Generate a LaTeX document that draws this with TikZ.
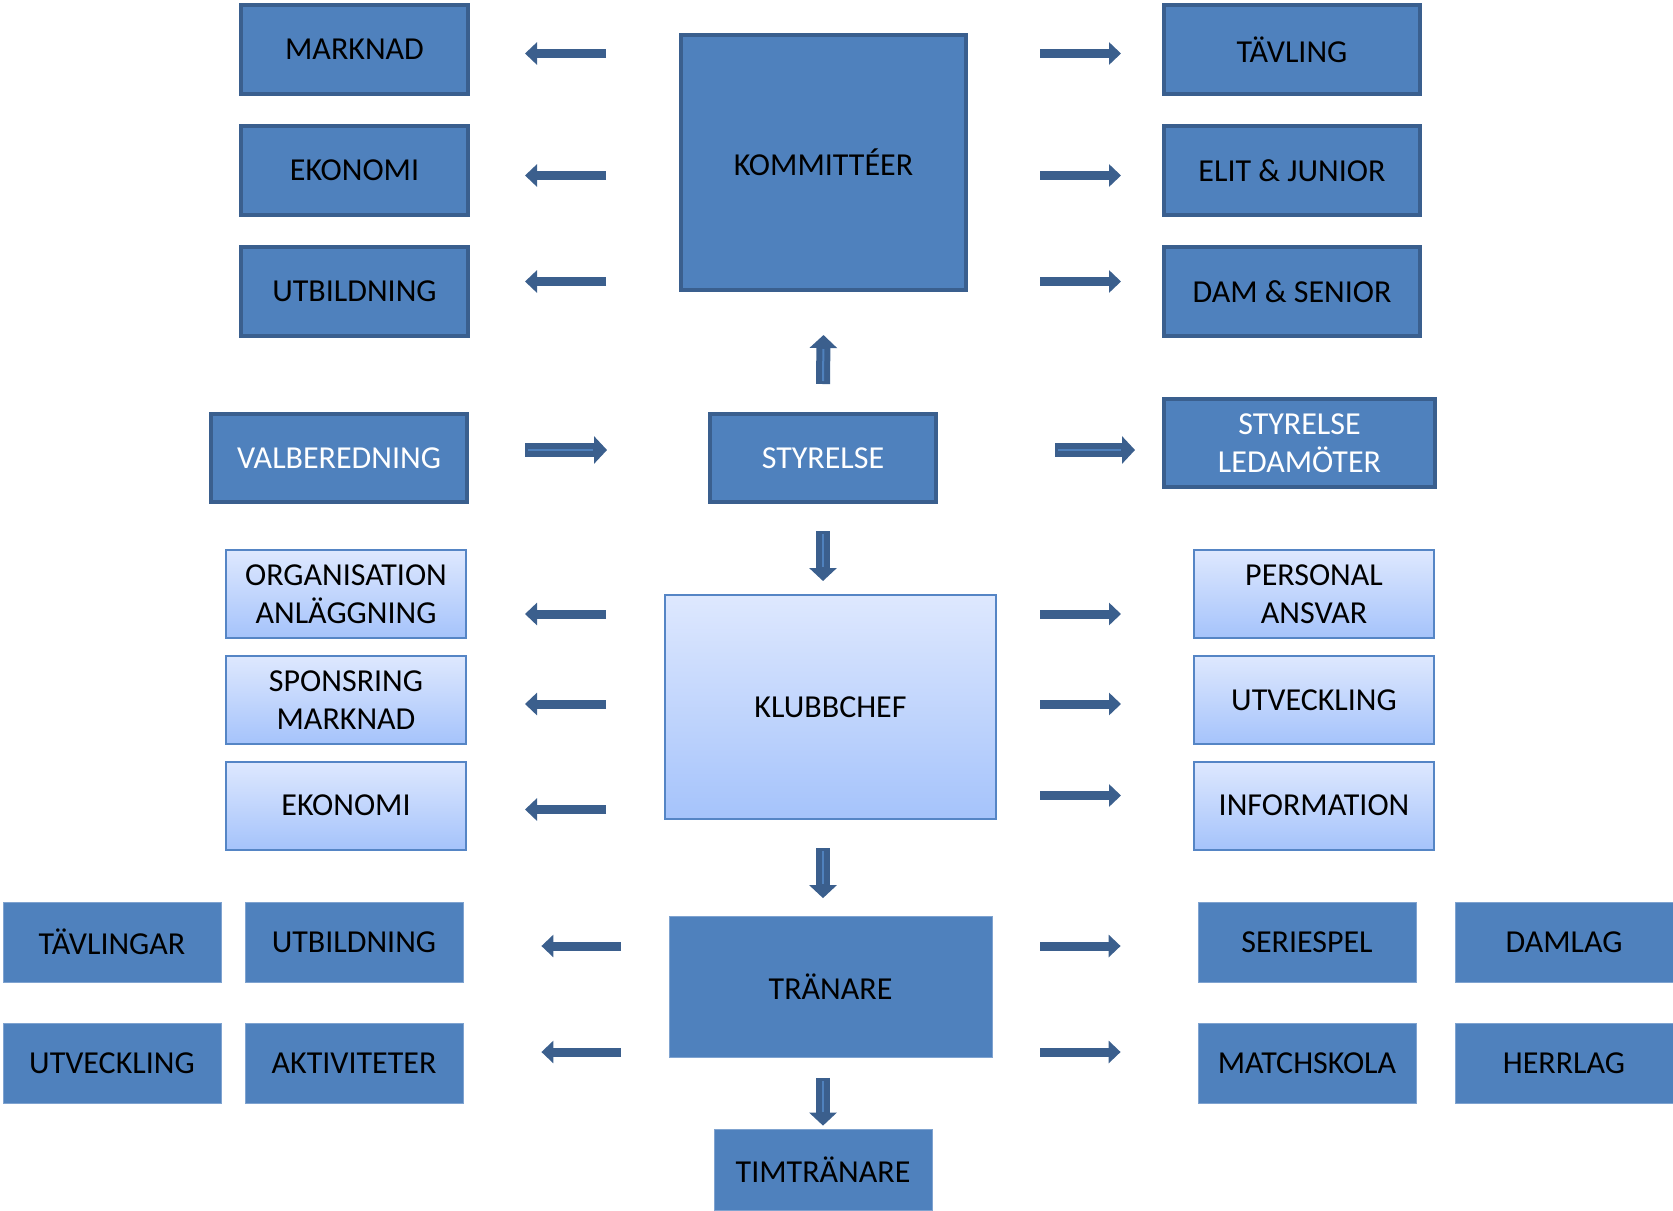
\documentclass[tikz,border=0pt]{standalone}
\usepackage{fontspec}
\setmainfont{Carlito}
\usetikzlibrary{arrows.meta}
\definecolor{boxblue}{HTML}{4F81BD}
\definecolor{boxedge}{HTML}{3A5F8E}
\definecolor{arrowblue}{HTML}{3B5F8D}
\definecolor{lighttop}{HTML}{DEE8FE}
\definecolor{lightbot}{HTML}{A5C3FB}
\definecolor{lightedge}{HTML}{5585C5}
\definecolor{flatedge}{HTML}{7FA3D0}
\begin{document}
\begin{tikzpicture}[
x=0.5pt, y=-0.5pt,
every node/.style={font=\fontsize{16}{19}\selectfont, align=center, inner sep=2pt},
darkbox/.style={rectangle, fill=boxblue, draw=boxedge, line width=2pt, text=black},
lightbox/.style={rectangle, top color=lighttop, bottom color=lightbot, draw=lightedge, line width=1pt, text=black, minimum width=120pt, minimum height=44pt},
flatbox/.style={rectangle, fill=boxblue, draw=flatedge, line width=0.4pt, text=black, minimum width=109pt, minimum height=40pt},
thinarrow/.style={draw=arrowblue, line width=4.5pt, -{Triangle[length=6pt, width=11pt]}},
fatarrow/.style={draw=arrowblue, line width=7pt, -{Triangle[length=6.5pt, width=13.5pt]},
  postaction={draw=boxblue, line width=1pt, -, shorten >=7pt, shorten <=1.5pt}}
]
\useasboundingbox (0,0) rectangle (1673,1210);
%Nodes
\node[darkbox, minimum width=142.5pt, minimum height=127.5pt] (kommitteer) at (823.5,162.5) {KOMMITTÉER};
\node[darkbox, minimum width=113.5pt, minimum height=44.5pt] (marknad)  at (354.5,49.5)  {MARKNAD};
\node[darkbox, minimum width=113.5pt, minimum height=44.5pt] (ekonomi)  at (354.5,170.5) {EKONOMI};
\node[darkbox, minimum width=113.5pt, minimum height=44.5pt] (utbildning) at (354.5,291.5) {UTBILDNING};
\node[darkbox, minimum width=128pt, minimum height=44.5pt] (tavling)   at (1292,49.5)  {TÄVLING};
\node[darkbox, minimum width=128pt, minimum height=44.5pt] (elit)      at (1292,170.5) {ELIT \& JUNIOR};
\node[darkbox, minimum width=128pt, minimum height=44.5pt] (dam)       at (1292,291.5) {DAM \& SENIOR};

\node[darkbox, text=white, minimum width=128pt, minimum height=44pt]   (valberedning) at (339,458)    {VALBEREDNING};
\node[darkbox, text=white, minimum width=113pt, minimum height=44pt]   (styrelse)     at (823,458)    {STYRELSE};
\node[darkbox, text=white, minimum width=135.5pt, minimum height=44pt] (ledamoter)    at (1299.5,443) {STYRELSE\\LEDAMÖTER};

\node[lightbox, minimum width=165.5pt, minimum height=112pt] (klubbchef) at (830.5,707) {KLUBBCHEF};
\node[lightbox] (organisation) at (346,594)    {ORGANISATION\\ANLÄGGNING};
\node[lightbox] (sponsring)    at (346,700)    {SPONSRING\\MARKNAD};
\node[lightbox] (ekonomi2)     at (346,805.5)  {EKONOMI};
\node[lightbox] (personal)     at (1314,594)   {PERSONAL\\ANSVAR};
\node[lightbox] (utveckling)   at (1314,700)   {UTVECKLING};
\node[lightbox] (information)  at (1314,805.5) {INFORMATION};

\node[flatbox, minimum width=161.5pt, minimum height=70.5pt] (tranare) at (830.5,987) {TRÄNARE};
\node[flatbox] (tavlingar)   at (112,942)   {TÄVLINGAR};
\node[flatbox] (utveckling2) at (112,1063)  {UTVECKLING};
\node[flatbox] (utbildning2) at (354,942)   {UTBILDNING};
\node[flatbox] (aktiviteter) at (354,1063)  {AKTIVITETER};
\node[flatbox] (seriespel)   at (1307,942)  {SERIESPEL};
\node[flatbox] (matchskola)  at (1307,1063) {MATCHSKOLA};
\node[flatbox] (damlag)      at (1564,942)  {DAMLAG};
\node[flatbox] (herrlag)     at (1564,1063) {HERRLAG};
\node[flatbox, minimum height=40.5pt] (timtranare) at (823,1169.5) {TIMTRÄNARE};

%Lines
\draw[thinarrow, shorten <=36.5pt, shorten >=27.5pt] ([yshift=-2pt]kommitteer.west |- marknad.east) -- ([yshift=-2pt]marknad.east);
\draw[thinarrow, shorten <=36.5pt, shorten >=27.5pt] ([yshift=-2.5pt]kommitteer.west |- ekonomi.east) -- ([yshift=-2.5pt]ekonomi.east);
\draw[thinarrow, shorten <=36.5pt, shorten >=27.5pt] ([yshift=5pt]kommitteer.west |- utbildning.east) -- ([yshift=5pt]utbildning.east);
\draw[thinarrow, shorten <=36pt, shorten >=20.5pt] ([yshift=-2pt]kommitteer.east |- tavling.west) -- ([yshift=-2pt]tavling.west);
\draw[thinarrow, shorten <=36pt, shorten >=20.5pt] ([yshift=-2.5pt]kommitteer.east |- elit.west) -- ([yshift=-2.5pt]elit.west);
\draw[thinarrow, shorten <=36pt, shorten >=20.5pt] ([yshift=5pt]kommitteer.east |- dam.west) -- ([yshift=5pt]dam.west);

\draw[fatarrow] ([yshift=14pt]styrelse.north) -- ([yshift=-21.5pt]kommitteer.south);
\draw[fatarrow] ([xshift=28pt, yshift=4pt]valberedning.east) -- ([xshift=-50.5pt, yshift=4pt]styrelse.west);
\draw[fatarrow] ([xshift=58.5pt, yshift=4pt]styrelse.east) -- ([xshift=-13.5pt, yshift=4pt]ledamoter.west |- styrelse.east);
\draw[fatarrow] ([yshift=-13.5pt]styrelse.south) -- ([yshift=6.5pt]styrelse.south |- klubbchef.north);

\draw[thinarrow, shorten <=29pt, shorten >=29pt] ([yshift=-10pt]klubbchef.west |- organisation.east) -- ([yshift=-10pt]organisation.east);
\draw[thinarrow, shorten <=29pt, shorten >=29pt] ([yshift=-2pt]klubbchef.west |- sponsring.east) -- ([yshift=-2pt]sponsring.east);
\draw[thinarrow, shorten <=29pt, shorten >=29pt] ([yshift=-2pt]klubbchef.west |- ekonomi2.east) -- ([yshift=-2pt]ekonomi2.east);
\draw[thinarrow, shorten <=21.5pt, shorten >=36pt] ([yshift=-10pt]klubbchef.east |- personal.west) -- ([yshift=-10pt]personal.west);
\draw[thinarrow, shorten <=21.5pt, shorten >=36pt] ([yshift=-2pt]klubbchef.east |- utveckling.west) -- ([yshift=-2pt]utveckling.west);
\draw[thinarrow, shorten <=21.5pt, shorten >=36pt] ([yshift=5pt]klubbchef.east |- information.west) -- ([yshift=5pt]information.west);

\draw[fatarrow] ([yshift=-14pt]styrelse.south |- klubbchef.south) -- ([yshift=9pt]styrelse.south |- tranare.north);

\draw[thinarrow, shorten <=24pt, shorten >=39pt] ([yshift=-2pt]tranare.west |- utbildning2.east) -- ([yshift=-2pt]utbildning2.east);
\draw[thinarrow, shorten <=24pt, shorten >=39pt] ([yshift=5.5pt]tranare.west |- aktiviteter.east) -- ([yshift=5.5pt]aktiviteter.east);
\draw[thinarrow, shorten <=24pt, shorten >=38.5pt] ([yshift=-2pt]tranare.east |- seriespel.west) -- ([yshift=-2pt]seriespel.west);
\draw[thinarrow, shorten <=24pt, shorten >=38.5pt] ([yshift=5.5pt]tranare.east |- matchskola.west) -- ([yshift=5.5pt]matchskola.west);

\draw[fatarrow] ([yshift=-10pt]timtranare.north |- tranare.south) -- ([yshift=1.5pt]timtranare.north);
\end{tikzpicture}
\end{document}
